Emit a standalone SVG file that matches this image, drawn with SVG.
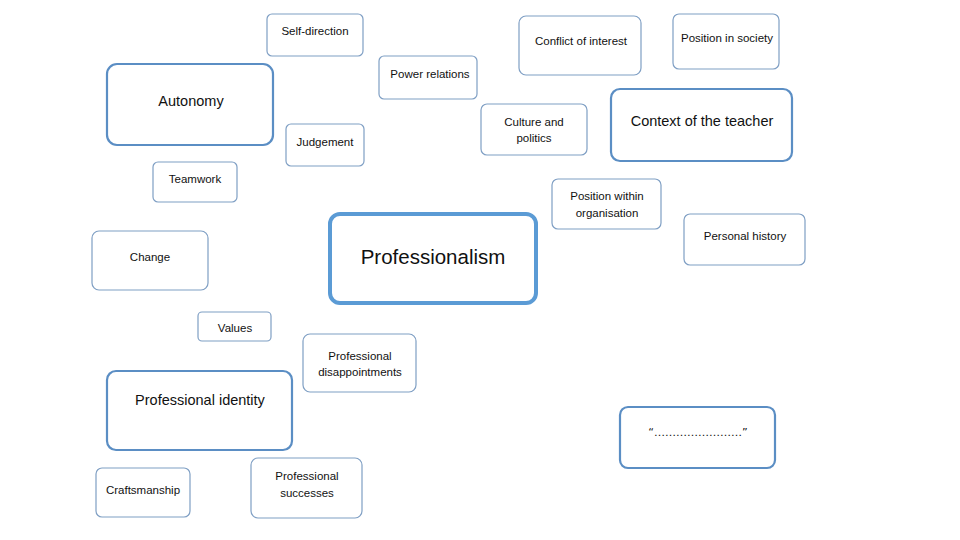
<svg xmlns="http://www.w3.org/2000/svg" width="960" height="540" viewBox="0 0 960 540">
<style>
.s{fill:#fff;stroke:#7f9fc4;stroke-width:1.2}
.m{fill:#fff;stroke:#5b8ec4;stroke-width:2.2}
.l{fill:#fff;stroke:#5b9bd5;stroke-width:4}
text{font-family:"Liberation Sans",Arial,sans-serif;fill:#111;text-anchor:middle}
.ts{font-size:11.5px}
.tm{font-size:14.5px}
.tl{font-size:20.5px}
</style>
<rect width="960" height="540" fill="#fff"/>
<g id="connectors"></g>
<g id="self-direction"><rect class="s" x="267" y="14" width="96" height="42" rx="5"/><text class="ts" x="315" y="35">Self-direction</text></g>
<g id="autonomy"><rect class="m" x="107" y="64" width="166" height="81" rx="10"/><text class="tm" x="191" y="106">Autonomy</text></g>
<g id="power-relations"><rect class="s" x="379" y="56" width="98" height="43" rx="5"/><text class="ts" x="430" y="78">Power relations</text></g>
<g id="conflict-of-interest"><rect class="s" x="519" y="16" width="122" height="59" rx="7"/><text class="ts" x="581" y="45">Conflict of interest</text></g>
<g id="position-in-society"><rect class="s" x="673" y="14" width="106" height="55" rx="6"/><text class="ts" x="727" y="42">Position in society</text></g>
<g id="culture-and-politics"><rect class="s" x="481" y="104" width="106" height="51" rx="6"/><text class="ts" x="534" y="126">Culture and</text><text class="ts" x="534" y="142">politics</text></g>
<g id="context-of-the-teacher"><rect class="m" x="611" y="89" width="181" height="72" rx="9"/><text class="tm" x="702" y="126">Context of the teacher</text></g>
<g id="judgement"><rect class="s" x="286" y="124" width="78" height="42" rx="5"/><text class="ts" x="325" y="146">Judgement</text></g>
<g id="teamwork"><rect class="s" x="153" y="162" width="84" height="40" rx="5"/><text class="ts" x="195" y="183">Teamwork</text></g>
<g id="position-within-organisation"><rect class="s" x="552" y="179" width="109" height="50" rx="6"/><text class="ts" x="607" y="200">Position within</text><text class="ts" x="607" y="217">organisation</text></g>
<g id="personal-history"><rect class="s" x="684" y="214" width="121" height="51" rx="6"/><text class="ts" x="745" y="240">Personal history</text></g>
<g id="professionalism"><rect class="l" x="330" y="214" width="206" height="89" rx="10"/><text class="tl" x="433" y="264">Professionalism</text></g>
<g id="change"><rect class="s" x="92" y="231" width="116" height="59" rx="7"/><text class="ts" x="150" y="261">Change</text></g>
<g id="values"><rect class="s" x="198" y="312" width="73" height="29" rx="4"/><text class="ts" x="235" y="332">Values</text></g>
<g id="professional-disappointments"><rect class="s" x="303" y="334" width="113" height="58" rx="7"/><text class="ts" x="360" y="360">Professional</text><text class="ts" x="360" y="376">disappointments</text></g>
<g id="professional-identity"><rect class="m" x="107" y="371" width="185" height="79" rx="9"/><text class="tm" x="200" y="405">Professional identity</text></g>
<g id="quote"><rect class="m" x="620" y="407" width="155" height="61" rx="8"/><text class="ts" x="698" y="436" style="font-family:'DejaVu Sans',sans-serif;font-size:11px">“……………………”</text></g>
<g id="craftsmanship"><rect class="s" x="96" y="468" width="94" height="49" rx="6"/><text class="ts" x="143" y="494">Craftsmanship</text></g>
<g id="professional-successes"><rect class="s" x="251" y="458" width="111" height="60" rx="7"/><text class="ts" x="307" y="480">Professional</text><text class="ts" x="307" y="497">successes</text></g>
</svg>
